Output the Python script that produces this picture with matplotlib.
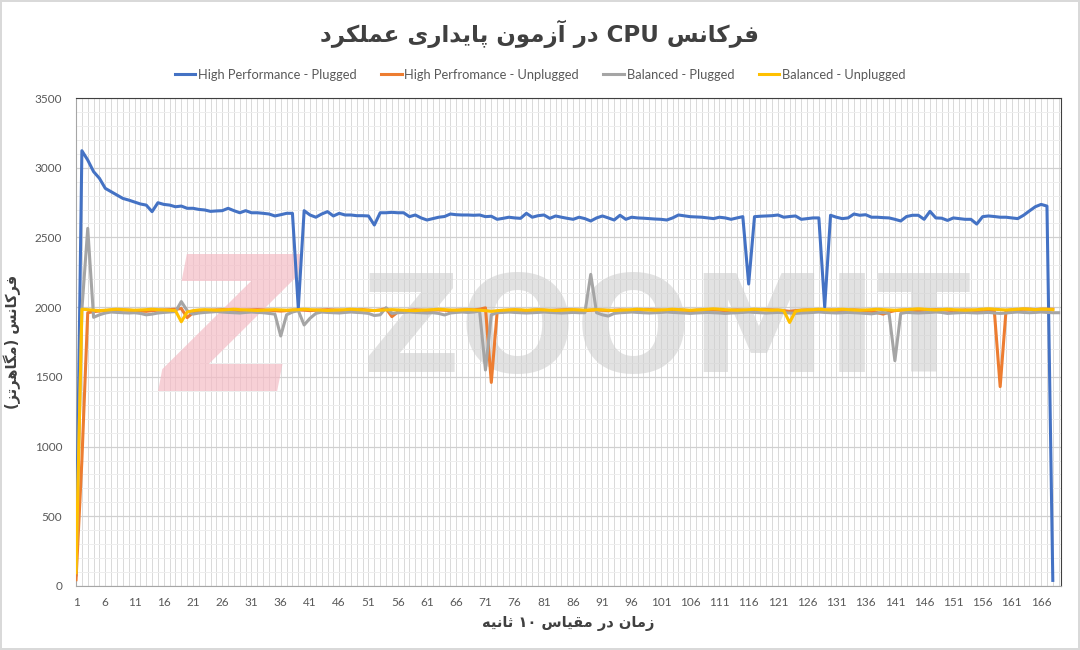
import re
import numpy as np
import matplotlib
matplotlib.use('Agg')
import matplotlib.pyplot as plt
from matplotlib.ticker import MultipleLocator

# Data (MHz per 10 s sample)
hp_plugged = [
    80, 3122, 3055, 2972, 2924, 2852, 2828, 2804, 2780, 2768,
    2754, 2740, 2732, 2685, 2749, 2737, 2732, 2720, 2725, 2709,
    2709, 2701, 2697, 2687, 2690, 2692, 2709, 2692, 2677, 2692,
    2677, 2677, 2673, 2668, 2654, 2663, 2673, 2673, 1992, 2692,
    2661, 2645, 2668, 2685, 2654, 2673, 2661, 2661, 2656, 2656,
    2654, 2589, 2677, 2677, 2680, 2677, 2677, 2649, 2661, 2640,
    2625, 2635, 2645, 2650, 2668, 2663, 2661, 2661, 2659, 2661,
    2649, 2652, 2630, 2637, 2645, 2640, 2637, 2673, 2645, 2656,
    2661, 2637, 2654, 2645, 2637, 2630, 2645, 2635, 2618, 2640,
    2654, 2640, 2625, 2659, 2630, 2645, 2640, 2638, 2635, 2632,
    2630, 2625, 2640, 2661, 2655, 2649, 2647, 2645, 2640, 2635,
    2645, 2640, 2630, 2640, 2649, 2166, 2649, 2652, 2654, 2656,
    2661, 2645, 2650, 2654, 2630, 2635, 2640, 2640, 2001, 2659,
    2645, 2635, 2640, 2668, 2659, 2663, 2645, 2645, 2642, 2640,
    2630, 2618, 2650, 2659, 2659, 2630, 2687, 2640, 2638, 2622,
    2640, 2635, 2630, 2630, 2596, 2649, 2654, 2650, 2645, 2645,
    2640, 2635, 2659, 2690, 2720, 2737, 2725, 40,
]
hp_unplugged = [
    45, 900, 1960, 1968, 1972, 1975, 1978, 1975, 1980, 1978,
    1975, 1972, 1970, 1975, 1978, 1980, 1982, 1985, 1990, 1925,
    1960, 1970, 1975, 1978, 1980, 1982, 1980, 1978, 1975, 1978,
    1980, 1982, 1980, 1978, 1975, 1972, 1975, 1978, 1980, 1978,
    1975, 1978, 1980, 1982, 1980, 1978, 1975, 1978, 1980, 1982,
    1978, 1975, 1980, 1990, 1932, 1965, 1975, 1978, 1980, 1978,
    1975, 1978, 1980, 1978, 1975, 1978, 1980, 1982, 1980, 1985,
    1995, 1460, 1965, 1975, 1978, 1980, 1978, 1975, 1978, 1980,
    1978, 1975, 1978, 1980, 1982, 1980, 1978, 1975, 1978, 1980,
    1978, 1975, 1978, 1980, 1978, 1975, 1978, 1980, 1982, 1980,
    1978, 1975, 1978, 1980, 1978, 1975, 1978, 1980, 1982, 1980,
    1978, 1975, 1978, 1980, 1978, 1975, 1978, 1980, 1982, 1980,
    1978, 1975, 1970, 1975, 1978, 1980, 1978, 1975, 1978, 1980,
    1978, 1975, 1978, 1980, 1978, 1975, 1970, 1960, 1950, 1965,
    1975, 1978, 1980, 1978, 1975, 1978, 1980, 1982, 1980, 1978,
    1975, 1978, 1980, 1978, 1975, 1972, 1970, 1975, 1430, 1975,
    1980, 1982, 1985, 1985, 1982, 1985, 1985, 1985,
]
bal_plugged = [
    120, 1980, 2565, 1927, 1945, 1958, 1965, 1962, 1960, 1958,
    1960, 1955, 1945, 1950, 1958, 1962, 1965, 1968, 2040, 1975,
    1950, 1958, 1962, 1965, 1968, 1965, 1962, 1960, 1958, 1962,
    1965, 1962, 1960, 1955, 1950, 1793, 1945, 1965, 1975, 1872,
    1920, 1955, 1965, 1962, 1960, 1958, 1962, 1965, 1962, 1960,
    1955, 1940, 1945, 1996, 1955, 1960, 1962, 1965, 1962, 1960,
    1958, 1960, 1955, 1944, 1958, 1962, 1965, 1962, 1965, 1972,
    1549, 1945, 1960, 1962, 1965, 1962, 1960, 1958, 1960, 1962,
    1965, 1962, 1960, 1958, 1960, 1962, 1960, 1960, 2235, 1960,
    1945, 1936, 1955, 1960, 1962, 1965, 1962, 1960, 1958, 1960,
    1962, 1965, 1962, 1960, 1958, 1955, 1958, 1960, 1962, 1960,
    1958, 1955, 1958, 1960, 1962, 1965, 1962, 1960, 1958, 1960,
    1962, 1960, 1958, 1955, 1958, 1960, 1962, 1965, 1962, 1960,
    1958, 1960, 1962, 1960, 1958, 1955, 1952, 1958, 1962, 1955,
    1616, 1955, 1962, 1960, 1958, 1960, 1962, 1965, 1962, 1955,
    1958, 1960, 1962, 1960, 1958, 1960, 1962, 1958, 1955, 1958,
    1962, 1965, 1962, 1960, 1962, 1965, 1962, 1960, 1960,
]
bal_unplugged = [
    95, 1985, 1982, 1978, 1975, 1978, 1982, 1985, 1982, 1980,
    1978, 1980, 1982, 1985, 1982, 1980, 1978, 1975, 1895, 1965,
    1975, 1980, 1982, 1980, 1978, 1980, 1982, 1985, 1982, 1980,
    1978, 1976, 1978, 1980, 1982, 1980, 1978, 1980, 1982, 1985,
    1982, 1980, 1978, 1976, 1978, 1980, 1982, 1985, 1982, 1980,
    1978, 1976, 1978, 1980, 1982, 1980, 1978, 1976, 1975, 1978,
    1980, 1982, 1985, 1982, 1980, 1978, 1980, 1982, 1980, 1978,
    1975, 1970, 1975, 1978, 1980, 1982, 1980, 1978, 1980, 1982,
    1980, 1978, 1976, 1978, 1980, 1982, 1980, 1978, 1980, 1982,
    1980, 1978, 1976, 1978, 1980, 1982, 1985, 1982, 1980, 1978,
    1980, 1982, 1985, 1982, 1980, 1978, 1980, 1982, 1985, 1988,
    1985, 1982, 1980, 1978, 1980, 1982, 1985, 1982, 1980, 1978,
    1980, 1975, 1890, 1970, 1978, 1980, 1982, 1985, 1982, 1980,
    1982, 1985, 1982, 1980, 1978, 1980, 1982, 1985, 1982, 1980,
    1978, 1980, 1982, 1985, 1988, 1985, 1982, 1980, 1982, 1985,
    1982, 1980, 1978, 1980, 1982, 1985, 1988, 1985, 1982, 1980,
    1982, 1985, 1988, 1985, 1982, 1985, 1985, 1982,
]
labels = ['High Performance - Plugged', 'High Perfromance - Unplugged',
          'Balanced - Plugged', 'Balanced - Unplugged']
colors = ['#4472C4', '#ED7D31', '#A5A5A5', '#FFC000']

title_fa = 'فرکانس CPU در آزمون پایداری عملکرد'
xlabel_fa = 'زمان در مقیاس ۱۰ ثانیه'
ylabel_fa = 'فرکانس (مگاهرتز)'

# minimal Persian shaping (matplotlib has no complex text layout)
FORMS = {
    'ا': ('\uFE8D', '\uFE8E', None, None),
    'آ': ('\uFE81', '\uFE82', None, None),
    'ب': ('\uFE8F', '\uFE90', '\uFE91', '\uFE92'),
    'پ': ('\uFB56', '\uFB57', '\uFB58', '\uFB59'),
    'ت': ('\uFE95', '\uFE96', '\uFE97', '\uFE98'),
    'ث': ('\uFE99', '\uFE9A', '\uFE9B', '\uFE9C'),
    'د': ('\uFEA9', '\uFEAA', None, None),
    'ر': ('\uFEAD', '\uFEAE', None, None),
    'ز': ('\uFEAF', '\uFEB0', None, None),
    'س': ('\uFEB1', '\uFEB2', '\uFEB3', '\uFEB4'),
    'ع': ('\uFEC9', '\uFECA', '\uFECB', '\uFECC'),
    'ف': ('\uFED1', '\uFED2', '\uFED3', '\uFED4'),
    'ق': ('\uFED5', '\uFED6', '\uFED7', '\uFED8'),
    'ک': ('\uFB8E', '\uFB8F', '\uFB90', '\uFB91'),
    'گ': ('\uFB92', '\uFB93', '\uFB94', '\uFB95'),
    'ل': ('\uFEDD', '\uFEDE', '\uFEDF', '\uFEE0'),
    'م': ('\uFEE1', '\uFEE2', '\uFEE3', '\uFEE4'),
    'ن': ('\uFEE5', '\uFEE6', '\uFEE7', '\uFEE8'),
    'ه': ('\uFEE9', '\uFEEA', '\uFEEB', '\uFEEC'),
    'و': ('\uFEED', '\uFEEE', None, None),
    'ی': ('\uFBFC', '\uFBFD', '\uFBFE', '\uFBFF'),
}
LTR = r'[A-Za-z0-9\u06F0-\u06F9]'


def fa(text):
    out = []
    for i, ch in enumerate(text):
        if ch not in FORMS:
            out.append(ch)
            continue
        prev = text[i - 1] if i > 0 else ''
        nxt = text[i + 1] if i + 1 < len(text) else ''
        jp = prev in FORMS and FORMS[prev][2] is not None
        jn = nxt in FORMS and FORMS[ch][2] is not None
        iso, fin, ini, med = FORMS[ch]
        out.append(med if jp and jn else fin if jp else ini if jn else iso)
    runs = re.findall(LTR + '+|(?:(?!' + LTR + ').)+', ''.join(out))
    mirror = {'(': ')', ')': '('}
    vis = []
    for r in reversed(runs):
        if re.match(LTR, r):
            vis.append(r)
        else:
            vis.append(''.join(mirror.get(c, c) for c in reversed(r)))
    return ''.join(vis)


plt.rcParams['font.family'] = ['Lato', 'DejaVu Sans']

fig = plt.figure(figsize=(10.8, 6.5), dpi=100, linewidth=1.5, edgecolor='#d9d9d9')
ax = fig.add_axes([0.0704, 0.0985, 0.9120, 0.7507])

# watermark
ax.text(0.157, 0.505, 'Z', transform=ax.transAxes, fontsize=135, fontweight='bold',
        fontstyle='italic', family='DejaVu Sans', color='#f4bcc5', alpha=0.7,
        ha='center', va='center', zorder=1)
ax.text(0.60, 0.515, 'ZOOMIT', transform=ax.transAxes, fontsize=98, fontweight='bold',
        family='DejaVu Sans', color='#cfcfcf', alpha=0.6,
        ha='center', va='center', zorder=1)

for ys, lab, c in zip([hp_plugged, hp_unplugged, bal_plugged, bal_unplugged], labels, colors):
    ax.plot(np.arange(1, len(ys) + 1), ys, color=c, lw=2.2, label=lab, zorder=3,
            solid_joinstyle='round')

ax.set_xlim(1, 169.4)
ax.set_ylim(0, 3500)
ax.xaxis.set_major_locator(MultipleLocator(5, offset=1))
ax.xaxis.set_minor_locator(MultipleLocator(1))
ax.yaxis.set_major_locator(MultipleLocator(500))
ax.yaxis.set_minor_locator(MultipleLocator(100))
ax.set_axisbelow(True)
ax.grid(axis='x', which='both', color='#d9d9d9', lw=0.7)
ax.grid(axis='y', which='major', color='#d0d0d0', lw=0.9)
ax.grid(axis='y', which='minor', color='#eeeeee', lw=0.7)
ax.tick_params(which='both', length=0, labelsize=8.5, labelcolor='#595959')
ax.tick_params(axis='x', pad=8)
ax.tick_params(axis='y', pad=10)
for s in ['left', 'bottom']:
    ax.spines[s].set_color('#a6a6a6')
for s in ['top', 'right']:
    ax.spines[s].set_color('#404040')

ax.set_xlabel(fa(xlabel_fa), family='DejaVu Sans', fontweight='bold', fontsize=10.5,
              color='#404040', labelpad=6)
ax.set_ylabel(fa(ylabel_fa), family='DejaVu Sans', fontweight='bold', fontsize=10.5,
              color='#404040', labelpad=10)
fig.text(0.5, 0.948, fa(title_fa), family='DejaVu Sans', fontweight='bold', fontsize=16.5,
         color='#404040', ha='center', va='center')

fig.legend(loc='center', bbox_to_anchor=(0.5, 0.885), ncol=4, frameon=False,
           fontsize=9.3, labelcolor='#595959', handlelength=1.6, handletextpad=0.2,
           columnspacing=1.9)

fig.savefig('out.png', dpi=100)
